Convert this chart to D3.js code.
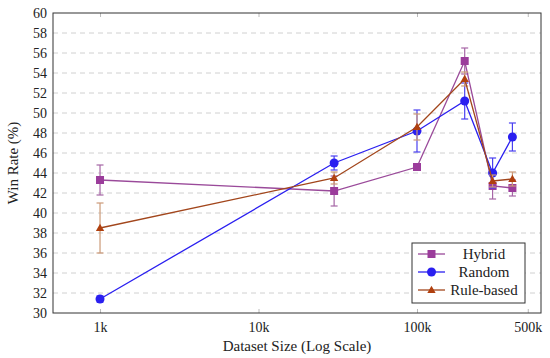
<!DOCTYPE html>
<html>
<head>
<meta charset="utf-8">
<script src="https://cdn.jsdelivr.net/npm/d3@7"></script>
</head>
<body style="margin:0">
<svg id="chart" width="550" height="358" font-family="Liberation Serif"></svg>
<script>
// Data
const sizes = [1000, 30000, 100000, 200000, 300000, 400000];
const hybrid = [43.3, 42.2, 44.6, 55.2, 42.7, 42.5];
const hybridErr = [1.5, 1.5, 0.3, 1.3, 1.3, 0.8];
const random = [31.4, 45.0, 48.2, 51.2, 44.0, 47.6];
const randomErr = [0.3, 0.7, 2.1, 1.8, 1.5, 1.4];
const rule = [38.5, 43.5, 48.6, 53.4, 43.2, 43.4];
const ruleErr = [2.5, 0.6, 1.3, 0.7, 0.6, 0.7];
const xTicks = [1000, 10000, 100000, 500000];
const xTickLabels = ["1k", "10k", "100k", "500k"];
const yTicks = d3.range(30, 61, 2);

const series = [
    { name: "Hybrid", values: hybrid, err: hybridErr, line: "#9a4a9a", mark: "#9b3c9b", bar: "#a666a6", shape: "square" },
    { name: "Random", values: random, err: randomErr, line: "#2a1ff0", mark: "#2a1ff0", bar: "#4a40f0", shape: "circle" },
    { name: "Rule-based", values: rule, err: ruleErr, line: "#a2461c", mark: "#b0400f", bar: "#cc9a78", shape: "triangle" }
];

const FONT = "Liberation Serif";
const dims = { left: 53, right: 541, top: 13, bottom: 313 };

const svg = d3.select("#chart");

const x = d3.scaleLog()
    .domain([505, 606000])
    .range([dims.left, dims.right]);

const y = d3.scaleLinear()
    .domain([30, 60])
    .range([dims.bottom, dims.top]);

// Grid lines
svg.append("g")
    .selectAll("line")
    .data(yTicks.filter(d => d > 30 && d < 60))
    .enter()
    .append("line")
    .attr("x1", dims.left)
    .attr("x2", dims.right)
    .attr("y1", d => y(d))
    .attr("y2", d => y(d))
    .attr("stroke", "#c4c4c4")
    .attr("stroke-width", 0.8)
    .attr("stroke-dasharray", "5,4");

// Y axis
const yAxis = svg.append("g")
    .attr("transform", `translate(${dims.left},0)`)
    .call(d3.axisLeft(y).tickValues(yTicks).tickSize(0).tickPadding(6));
yAxis.select(".domain").remove();
yAxis.attr("font-family", FONT).attr("font-size", 14);
yAxis.selectAll("text").attr("fill", "#222").attr("font-family", FONT);

// X axis
const xAxis = svg.append("g")
    .attr("transform", `translate(0,${dims.bottom})`)
    .call(d3.axisBottom(x).tickValues(xTicks).tickFormat((d, i) => xTickLabels[i]).tickSize(-4).tickPadding(9));
xAxis.select(".domain").remove();
xAxis.attr("font-family", FONT).attr("font-size", 14);
xAxis.selectAll("line").attr("stroke", "#bbb");
xAxis.selectAll("text").attr("fill", "#222").attr("font-family", FONT);

// Top ticks
svg.append("g")
    .attr("transform", `translate(0,${dims.top})`)
    .call(d3.axisTop(x).tickValues(xTicks).tickFormat("").tickSize(-4))
    .call(g => g.select(".domain").remove())
    .selectAll("line").attr("stroke", "#bbb");

// Frame
svg.append("rect")
    .attr("x", dims.left)
    .attr("y", dims.top)
    .attr("width", dims.right - dims.left)
    .attr("height", dims.bottom - dims.top)
    .attr("fill", "none")
    .attr("stroke", "#333")
    .attr("stroke-width", 1);

// Axis labels
svg.append("text")
    .attr("x", 297)
    .attr("y", 351)
    .attr("text-anchor", "middle")
    .attr("font-family", FONT)
    .attr("font-size", 15)
    .attr("fill", "#222")
    .text("Dataset Size (Log Scale)");

svg.append("text")
    .attr("transform", `translate(18,${(dims.top + dims.bottom) / 2}) rotate(-90)`)
    .attr("text-anchor", "middle")
    .attr("font-family", FONT)
    .attr("font-size", 15)
    .attr("fill", "#222")
    .text("Win Rate (%)");

function drawMarker(g, shape, cx, cy, color) {
    if (shape === "square") {
        g.append("rect")
            .attr("x", cx - 4).attr("y", cy - 4)
            .attr("width", 8).attr("height", 8)
            .attr("fill", color);
    } else if (shape === "circle") {
        g.append("circle")
            .attr("cx", cx).attr("cy", cy).attr("r", 4.5)
            .attr("fill", color);
    } else {
        g.append("path")
            .attr("d", d3.symbol().type(d3.symbolTriangle).size(30)())
            .attr("transform", `translate(${cx},${cy + 0.5})`)
            .attr("fill", color);
    }
}

const line = d3.line()
    .x((d, i) => x(sizes[i]))
    .y(d => y(d));

// Series
series.forEach(s => {
    const g = svg.append("g");

    // Error bars
    s.values.forEach((v, i) => {
        const cx = x(sizes[i]);
        const lo = y(v - s.err[i]);
        const hi = y(v + s.err[i]);
        g.append("line")
            .attr("x1", cx).attr("x2", cx)
            .attr("y1", lo).attr("y2", hi)
            .attr("stroke", s.bar).attr("stroke-width", 1.2);
        [lo, hi].forEach(yy => {
            g.append("line")
                .attr("x1", cx - 3.5).attr("x2", cx + 3.5)
                .attr("y1", yy).attr("y2", yy)
                .attr("stroke", s.bar).attr("stroke-width", 1.2);
        });
    });

    g.append("path")
        .datum(s.values)
        .attr("d", line)
        .attr("fill", "none")
        .attr("stroke", s.line)
        .attr("stroke-width", 1.3);

    s.values.forEach((v, i) => drawMarker(g, s.shape, x(sizes[i]), y(v), s.mark));
});

// Legend
const legend = svg.append("g")
    .attr("transform", "translate(412,243)");

legend.append("rect")
    .attr("width", 113)
    .attr("height", 60)
    .attr("fill", "#fff")
    .attr("stroke", "#333")
    .attr("stroke-width", 1);

series.forEach((s, i) => {
    const cy = 11 + i * 18;
    legend.append("line")
        .attr("x1", 6).attr("x2", 33)
        .attr("y1", cy).attr("y2", cy)
        .attr("stroke", s.line)
        .attr("stroke-width", 1.3);
    drawMarker(legend, s.shape, 19.5, cy, s.mark);
    legend.append("text")
        .attr("x", 72)
        .attr("y", cy + 5)
        .attr("text-anchor", "middle")
        .attr("font-family", FONT)
        .attr("font-size", 15)
        .attr("fill", "#222")
        .text(s.name);
});
</script>
</body>
</html>
